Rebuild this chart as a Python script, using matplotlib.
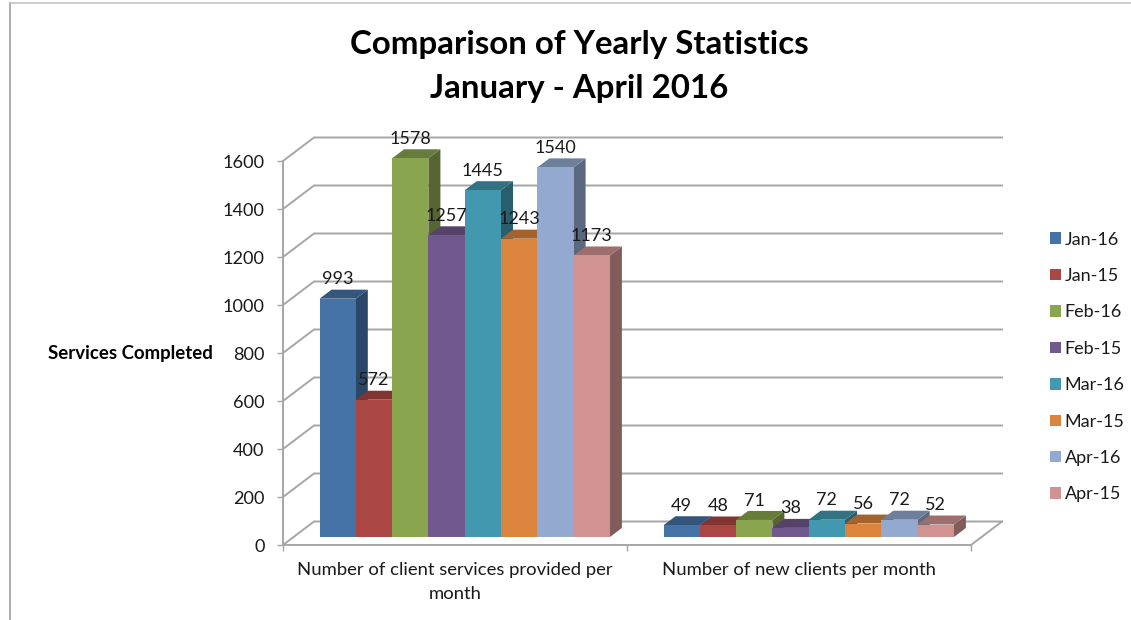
"""Comparison of yearly statistics, Excel-style 3D clustered columns."""
import matplotlib
matplotlib.use("Agg")
import matplotlib.pyplot as plt
from matplotlib.colors import to_rgb
from matplotlib.lines import Line2D
from matplotlib.patches import Patch, Polygon

plt.rcParams["font.family"] = ["Lato", "DejaVu Sans"]

categories = ["Number of client services provided per\nmonth", "Number of new clients per month"]
months = ["Jan-16", "Jan-15", "Feb-16", "Feb-15", "Mar-16", "Mar-15", "Apr-16", "Apr-15"]
services = [993, 572, 1578, 1257, 1445, 1243, 1540, 1173]
new_clients = [49, 48, 71, 38, 72, 56, 72, 52]
colors = ["#4572A7", "#AA4643", "#89A54E", "#71588F", "#4198AF", "#DB843D", "#93A9CF", "#D19392"]
y_ticks = [0, 200, 400, 600, 800, 1000, 1200, 1400, 1600]

W, H = 1131, 620
GRID = "#a6a6a6"
TEXT = "#1a1a1a"

# plot box in pixels (front plane of the 3D floor)
LEFT, RIGHT, TOP, BOTTOM = 283, 971, 161, 545
PX_X = 2 / (RIGHT - LEFT)
PX_Y = 1600 / (BOTTOM - TOP)

# back wall offset, and how the columns sit on the floor (all pixels -> data)
WALL_DX, WALL_DY = 31 * PX_X, 23.5 * PX_Y
BASE_UP = 8 * PX_Y
BAR_DX, BAR_DY = 12 * PX_X, 9 * PX_Y
BAR_W = 36.3 * PX_X
BAR_START = 36.5 * PX_X


def shade(color, factor):
    return tuple(c * factor for c in to_rgb(color))


def draw_column(ax, x, value, color):
    y0, y1 = BASE_UP, BASE_UP + value
    ax.add_patch(Polygon([(x + BAR_W, y0), (x + BAR_W + BAR_DX, y0 + BAR_DY),
                          (x + BAR_W + BAR_DX, y1 + BAR_DY), (x + BAR_W, y1)],
                         fc=shade(color, 0.62), ec="none", clip_on=False, zorder=3))
    ax.add_patch(Polygon([(x, y1), (x + BAR_W, y1), (x + BAR_W + BAR_DX, y1 + BAR_DY),
                          (x + BAR_DX, y1 + BAR_DY)],
                         fc=shade(color, 0.75), ec="none", clip_on=False, zorder=3))
    ax.add_patch(Polygon([(x, y0), (x + BAR_W, y0), (x + BAR_W, y1), (x, y1)],
                         fc=color, ec="none", clip_on=False, zorder=3))


fig = plt.figure(figsize=(W / 100, H / 100), dpi=100)
ax = fig.add_axes([LEFT / W, 1 - BOTTOM / H, (RIGHT - LEFT) / W, (BOTTOM - TOP) / H])
ax.set_xlim(0, 2)
ax.set_ylim(0, 1600)
ax.patch.set_alpha(0)

for side in ["top", "right"]:
    ax.spines[side].set_visible(False)
for side in ["left", "bottom"]:
    ax.spines[side].set_color(GRID)
    ax.spines[side].set_linewidth(1.4)

ax.set_yticks(y_ticks)
ax.tick_params(axis="y", length=4.3, width=1.0, color=GRID, pad=9, labelsize=13.1, labelcolor=TEXT)
ax.set_xticks([0, 1, 2])
ax.set_xticklabels([])
ax.set_xticks([0.5, 1.5], minor=True)
ax.set_xticklabels(categories, minor=True)
ax.tick_params(axis="x", which="major", length=4.3, width=1.0, color=GRID)
ax.tick_params(axis="x", which="minor", length=0, pad=12.5, labelsize=13.3, labelcolor=TEXT)
for label in ax.get_xticklabels(minor=True):
    label.set_linespacing(1.55)
    label.set_verticalalignment("top")

# walls and floor
for tick in y_ticks:
    ax.plot([0, WALL_DX, 2 + WALL_DX], [tick, tick + WALL_DY, tick + WALL_DY],
            color=GRID, lw=1.4, clip_on=False, zorder=1)
ax.plot([2, 2 + WALL_DX], [0, WALL_DY], color=GRID, lw=1.4, clip_on=False, zorder=1)

# columns, left to right so each front covers the previous side
for group, values in enumerate([services, new_clients]):
    for i, (value, color) in enumerate(zip(values, colors)):
        x = group + BAR_START + i * BAR_W
        draw_column(ax, x, value, color)
        ax.annotate(str(value), (x + BAR_W / 2, BASE_UP + value), xytext=(0, 14),
                    textcoords="offset points", ha="center", va="center",
                    fontsize=13, color=TEXT, zorder=5, annotation_clip=False)

fig.text(579 / W, 1 - 66.5 / H, "Comparison of Yearly Statistics\nJanuary - April 2016",
         ha="center", va="center", fontsize=23.8, fontweight="bold", color="black", linespacing=1.64)
fig.text(130 / W, 1 - 353 / H, "Services Completed", ha="center", va="center",
         fontsize=13.4, fontweight="bold", color="black")

handles = [Patch(fc=c, ec="none", label=m) for m, c in zip(months, colors)]
fig.legend(handles=handles, loc="center left", bbox_to_anchor=(1050 / W, 1 - 367 / H),
           frameon=False, fontsize=13, labelcolor=TEXT, handlelength=0.6, handleheight=0.6,
           handletextpad=0.22, labelspacing=1.13, borderpad=0, borderaxespad=0)

# outer chart frame, cropped in the source
fig.add_artist(Line2D([10 / W, 10 / W], [0, 1 - 3 / H], color="#a0a0a0", lw=1.2))
fig.add_artist(Line2D([10 / W, 1], [1 - 3 / H, 1 - 3 / H], color="#c4c4c4", lw=1.2))

fig.savefig("out.png", dpi=100)
plt.close(fig)
